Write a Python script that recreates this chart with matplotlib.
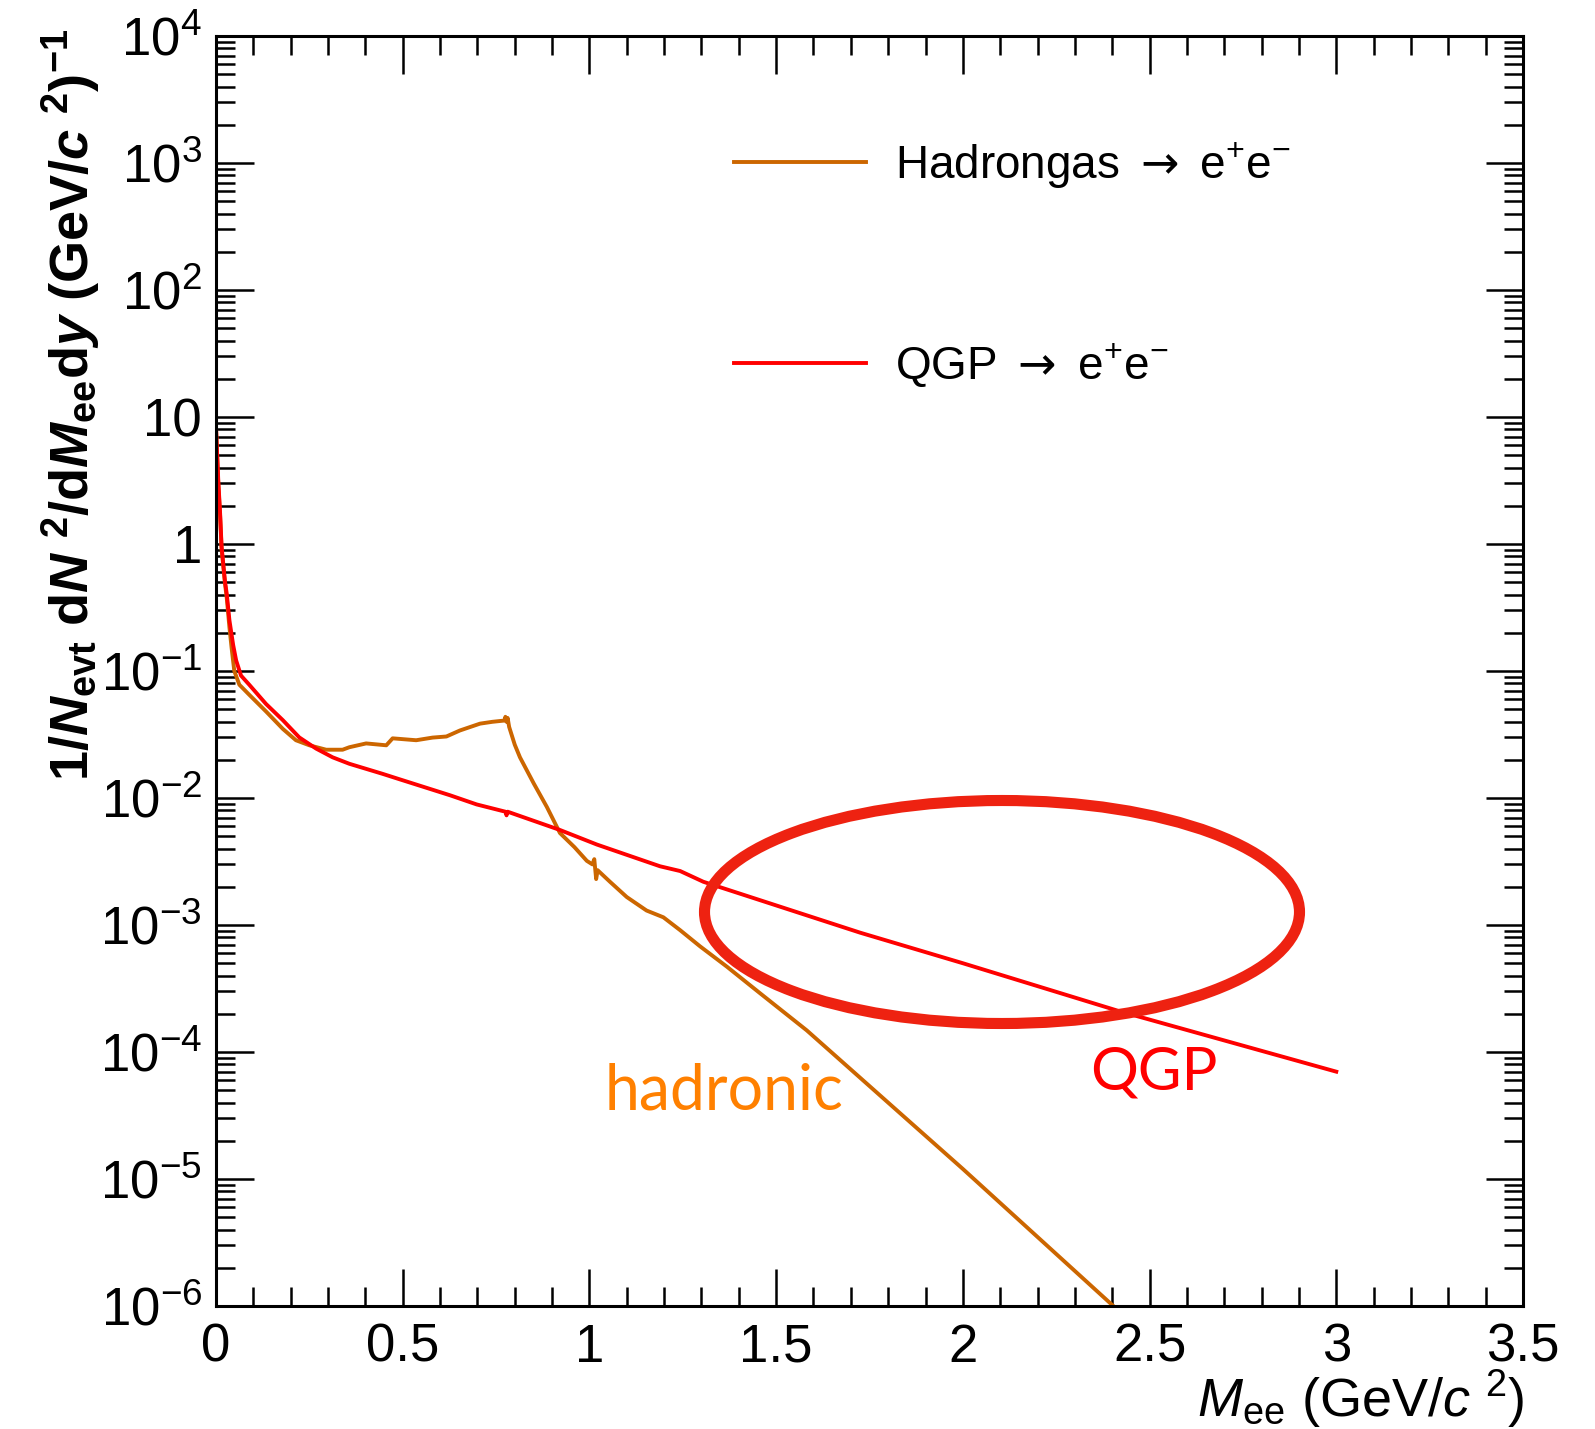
import numpy as np
import matplotlib
matplotlib.use("Agg")
import matplotlib.pyplot as plt
from matplotlib.patches import Ellipse
from matplotlib.ticker import LogLocator, NullFormatter

plt.rcParams['font.family'] = ['Liberation Sans', 'DejaVu Sans']
plt.rcParams['mathtext.fontset'] = 'custom'
plt.rcParams['mathtext.default'] = 'regular'
plt.rcParams['mathtext.rm'] = 'DejaVu Sans'
plt.rcParams['mathtext.it'] = 'Liberation Sans:italic:bold'
plt.rcParams['mathtext.sf'] = 'Liberation Sans:italic'
plt.rcParams['mathtext.bf'] = 'Liberation Sans:bold'

# dilepton mass spectra (GeV/c^2) and yields
m_hadron = [0.0, 0.006, 0.011, 0.015, 0.024, 0.029, 0.036, 0.042, 0.049, 0.0625,
            0.089, 0.134, 0.179, 0.214, 0.25, 0.295, 0.339, 0.357, 0.402, 0.438,
            0.456, 0.473, 0.536, 0.58, 0.617, 0.653, 0.707, 0.74, 0.761, 0.772,
            0.775, 0.778, 0.781, 0.785, 0.80, 0.814, 0.851, 0.886, 0.921, 0.96,
            0.993, 1.008, 1.013, 1.018, 1.022, 1.055, 1.10, 1.153, 1.198, 1.243,
            1.296, 1.368, 1.457, 1.582, 2.0, 2.42]
y_hadron = [8.3, 3.0, 1.66, 0.91, 0.49, 0.37, 0.22, 0.15, 0.10, 0.078,
            0.065, 0.048, 0.035, 0.0285, 0.026, 0.024, 0.024, 0.0251, 0.0269, 0.0263,
            0.026, 0.0295, 0.0285, 0.0299, 0.0305, 0.034, 0.0385, 0.0398, 0.0404, 0.0407,
            0.0436, 0.0398, 0.0427, 0.0363, 0.0263, 0.0209, 0.0130, 0.0085, 0.0053, 0.0041,
            0.0032, 0.0030, 0.0033, 0.0023, 0.0027, 0.00219, 0.00166, 0.0013, 0.00115, 0.00091,
            0.00068, 0.00047, 0.00029, 0.000148, 1.2e-5, 9.0e-7]

m_qgp = [0.0, 0.006, 0.011, 0.015, 0.024, 0.029, 0.036, 0.046, 0.054, 0.067,
         0.089, 0.134, 0.179, 0.223, 0.268, 0.3125, 0.357, 0.446, 0.493, 0.627,
         0.698, 0.775, 0.778, 0.781, 0.921, 1.02, 1.189, 1.243, 1.305, 1.725,
         2.0, 2.418, 3.0]
y_qgp = [8.3, 3.2, 1.74, 0.95, 0.51, 0.40, 0.25, 0.16, 0.121, 0.092,
         0.078, 0.055, 0.041, 0.030, 0.0245, 0.0209, 0.0186, 0.0155, 0.0140, 0.0105,
         0.0089, 0.0078, 0.0073, 0.0078, 0.0056, 0.0043, 0.0029, 0.00266, 0.00219, 8.7e-4,
         5.0e-4, 2.1e-4, 7.0e-5]

x_ticks = [0, 0.5, 1, 1.5, 2, 2.5, 3, 3.5]
x_tick_labels = ["0", "0.5", "1", "1.5", "2", "2.5", "3", "3.5"]
y_ticks = [1e-6, 1e-5, 1e-4, 1e-3, 1e-2, 1e-1, 1, 10, 1e2, 1e3, 1e4]
y_tick_labels = ["$10^{-6}$", "$10^{-5}$", "$10^{-4}$", "$10^{-3}$", "$10^{-2}$",
                 "$10^{-1}$", "1", "10", "$10^{2}$", "$10^{3}$", "$10^{4}$"]

W, H = 1595, 1429
fig = plt.figure(figsize=(W / 100, H / 100), dpi=100)
ax = fig.add_axes([216 / W, 1 - 1306 / H, 1307 / W, 1270 / H])

ax.plot(m_hadron, y_hadron, color="#CC6600", lw=2.8,
        label=r"Hadrongas $\mathrm{\rightarrow}$ e$^{+}$e$^{-}$")
ax.plot(m_qgp, y_qgp, color="#FF0000", lw=2.8,
        label=r"QGP $\mathrm{\rightarrow}$ e$^{+}$e$^{-}$")

ax.set_yscale("log")
ax.set_xlim(0, 3.5)
ax.set_ylim(1e-6, 1e4)
ax.set_xticks(x_ticks, labels=x_tick_labels)
ax.set_xticks(np.arange(0, 3.51, 0.1), minor=True)
ax.set_yticks(y_ticks, labels=y_tick_labels)
ax.yaxis.set_minor_locator(LogLocator(base=10, subs=range(2, 10), numticks=30))
ax.yaxis.set_minor_formatter(NullFormatter())

ax.tick_params(which="both", direction="in", top=True, right=True, width=1.8)
ax.tick_params(which="major", length=27, labelsize=38)
ax.tick_params(which="minor", length=14)
ax.tick_params(axis="x", which="major", pad=12)
ax.tick_params(axis="y", which="major", pad=10)
for sp in ax.spines.values():
    sp.set_linewidth(2.2)

ax.legend(loc="upper left", bbox_to_anchor=(0.396, 0.918), frameon=False,
          fontsize=33, handlelength=2.9, handletextpad=0.62, labelspacing=3.3,
          borderpad=0, borderaxespad=0)

fig.text(71 / W, 1 - 28 / H,
         r"$1/\mathit{N}_{evt}$ d$\mathit{N}$ $^{2}$/d$\mathit{M}_{ee}$d$\mathit{y}$ (GeV/$\mathit{c}$ $^{2}$)$^{-1}$",
         rotation=90, ha="center", va="top", fontsize=39, fontweight="bold")
fig.text(1524 / W, 1 - 1417 / H, r"$\mathsf{M}_{ee}$ (GeV/$\mathsf{c}$ $^{2}$)",
         ha="right", va="baseline", fontsize=39)

# highlighted region and labels
fig.add_artist(Ellipse((1002 / W, 1 - 912 / H), 595 / W, 223 / H, fill=False,
                       edgecolor="#EE2211", lw=8))
fig.text(605 / W, 1 - 1109 / H, "hadronic", family="Lato", fontsize=45,
         color="#FF8000", va="baseline")
fig.text(1090 / W, 1 - 1090 / H, "QGP", family="Lato", fontsize=43,
         color="#FF0000", va="baseline")

fig.savefig("out.png", dpi=100)
